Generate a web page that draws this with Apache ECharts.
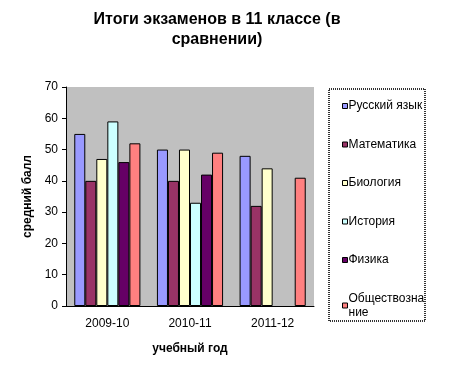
<!DOCTYPE html>
<html><head><meta charset="utf-8">
<script src="https://cdn.jsdelivr.net/npm/echarts@6/dist/echarts.min.js"></script>
<style>html,body{margin:0;padding:0;background:#fff}#c{width:463px;height:365px}</style>
</head><body><div id="c"></div>
<script>
const categories = ['2009-10', '2010-11', '2011-12'];
const seriesNames = ['Русский язык', 'Математика', 'Биология', 'История', 'Физика', 'Обществознание'];
const russian = [55, 50, 48];
const math = [40, 40, 32];
const biology = [47, 50, 44];
const history = [59, 33, null];
const physics = [46, 42, null];
const social = [52, 49, 41];
const yTicks = [0, 10, 20, 30, 40, 50, 60, 70];
const colors = ['#9999FF', '#993366', '#FFFFCC', '#CCFFFF', '#660066', '#FF8080'];
const allData = [russian, math, biology, history, physics, social];

const chart = echarts.init(document.getElementById('c'));
chart.setOption({
  animation: false,
  backgroundColor: '#fff',
  title: {
    text: 'Итоги экзаменов в 11 классе (в\nсравнении)',
    left: 212, top: 5, textAlign: 'center',
    textStyle: {fontFamily: 'Arial, Liberation Sans', fontSize: 16, fontWeight: 'bold', color: '#000', lineHeight: 20}
  },
  graphic: [{
    type: 'rect', shape: {x: 329, y: 89, width: 96, height: 232},
    style: {fill: '#fff', stroke: '#333', lineWidth: 2, lineDash: [1, 1]}, z: 0
  }],
  legend: {
    orient: 'vertical', left: 337, top: 94, itemGap: 24.5,
    itemWidth: 5, itemHeight: 5, icon: 'rect',
    data: seriesNames,
    formatter: n => n === 'Обществознание' ? 'Обществозна\nние' : n,
    textStyle: {fontFamily: 'Arial, Liberation Sans', fontSize: 12, color: '#000', padding: [0, 0, 0, -4], lineHeight: 14},
    itemStyle: {borderColor: '#000', borderWidth: 1}
  },
  grid: {left: 66, right: 149, top: 87, bottom: 59, show: true, backgroundColor: '#C0C0C0', borderWidth: 0},
  xAxis: {
    type: 'category', data: categories,
    name: 'учебный год', nameLocation: 'middle', nameGap: 37,
    nameTextStyle: {fontFamily: 'Arial, Liberation Sans', fontSize: 12, fontWeight: 'bold', color: '#000'},
    axisLine: {lineStyle: {color: '#000'}},
    axisTick: {lineStyle: {color: '#000'}, length: 4},
    axisLabel: {fontFamily: 'Arial, Liberation Sans', fontSize: 12, color: '#000', margin: 12}
  },
  yAxis: {
    type: 'value', min: 0, max: 70, interval: 10,
    name: 'средний балл', nameLocation: 'middle', nameGap: 32, nameRotate: 90,
    nameTextStyle: {fontFamily: 'Arial, Liberation Sans', fontSize: 12, fontWeight: 'bold', color: '#000'},
    axisLine: {show: true, lineStyle: {color: '#000'}},
    axisTick: {show: true, inside: false, length: 4, lineStyle: {color: '#000'}},
    splitLine: {show: false},
    axisLabel: {fontFamily: 'Arial, Liberation Sans', fontSize: 12, color: '#000', margin: 8,
      formatter: v => yTicks.includes(v) ? String(v) : ''}
  },
  series: seriesNames.map((name, i) => ({
    name, type: 'bar', data: allData[i],
    barGap: '0%', barCategoryGap: '20%',
    itemStyle: {color: colors[i], borderColor: '#000', borderWidth: 1}
  }))
});
</script></body></html>
